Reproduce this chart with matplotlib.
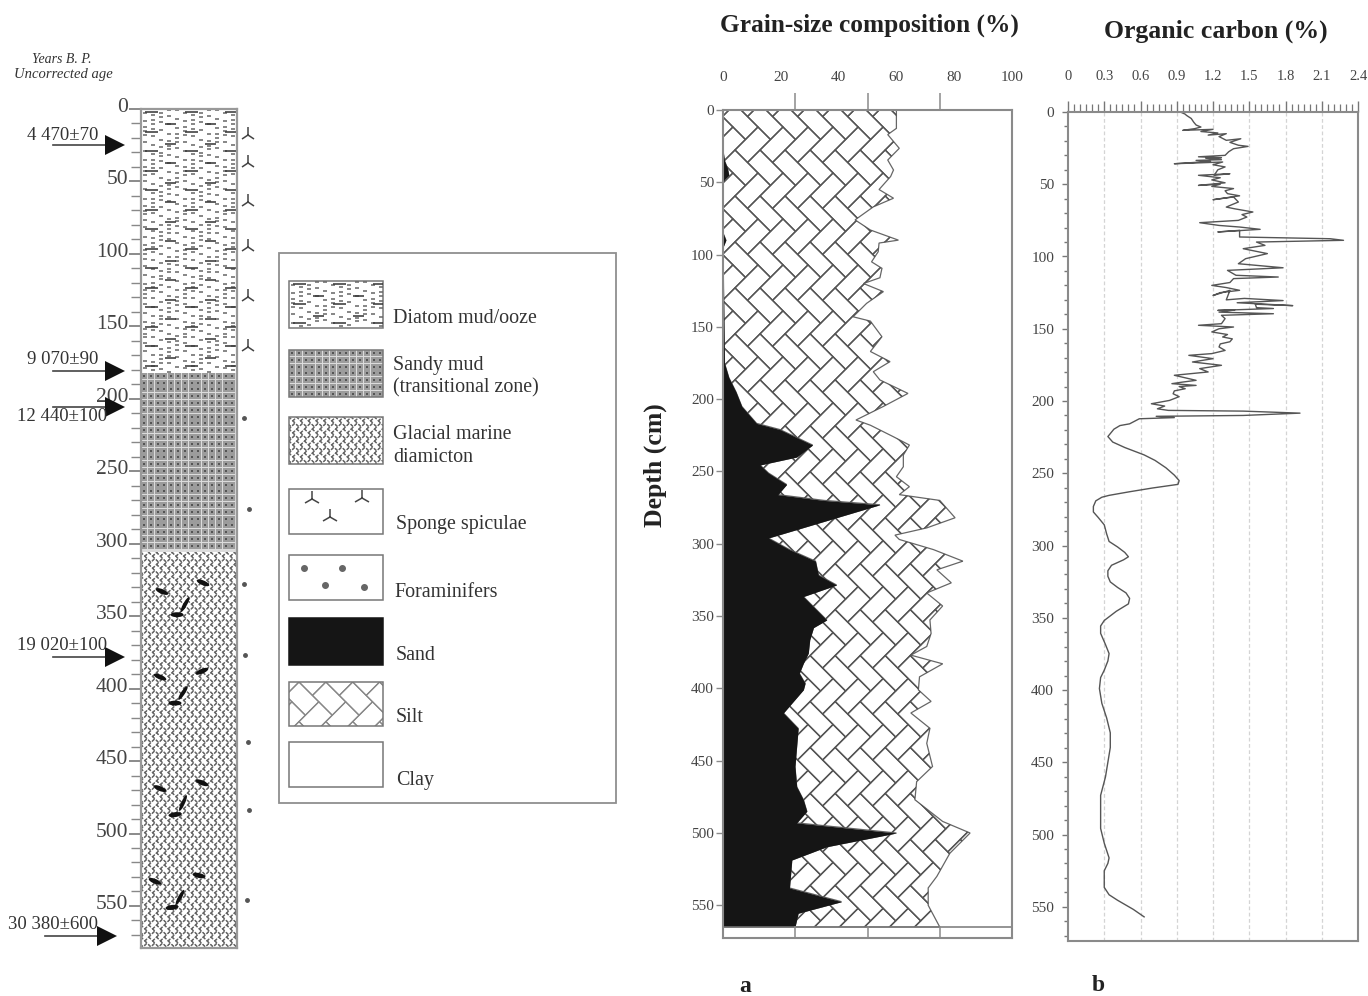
import numpy as np
import matplotlib
matplotlib.use("Agg")
import matplotlib.pyplot as plt
from matplotlib.collections import LineCollection, PolyCollection
from matplotlib.patches import Ellipse, Polygon, Rectangle
from matplotlib.transforms import ScaledTranslation

plt.rcParams['font.family'] = ['Liberation Serif', 'DejaVu Serif']

W_PX, H_PX = 1368, 996
TEXT = '#333333'
AXIS = '#8a8a8a'

# core log
core_major = [0, 50, 100, 150, 200, 250, 300, 350, 400, 450, 500, 550]
core_minor = list(range(0, 580, 10))
diatom_base = 182
sandy_base = 306
spicule_depths = [18, 37, 64.5, 95.5, 130, 164]
foram_depths = [213, 276, 328, 377, 437, 484, 546]
foram_x = [103, 108, 103, 104, 107, 108, 106]
ages = ['4 470±70', '9 070±90', '12 440±100', '19 020±100', '30 380±600']
age_depths = [25, 181, 205.5, 378, 571]
age_text_depths = [18, 173, 212, 370, 563]
age_text_right = [-43, -43, -34, -34, -43]
age_arrow_shift = [0, 0, 0, 0, -8]
blob_x = [62, 21, 44, 36, 61, 19, 42, 34, 61, 19, 42, 34, 58, 14, 39, 31]
blob_depth = [327, 333, 342, 349, 388, 392, 403, 410, 465, 469, 479, 487, 529, 533, 544, 551]
blob_angle = [15, 15, -50, 0, -15, 15, -45, 0, 15, 15, -55, -5, 8, 15, -50, -5]

# panel a, grain size
sand_depth = [0, 28, 35, 40, 45, 48, 50, 85, 90, 95, 175, 185, 195, 205, 216.7, 221, 231.7, 240, 245.5,
              251, 259, 266, 270, 273, 296, 304, 312, 321.6, 328.5, 336.5, 343.5, 352.7, 358, 366.5,
              375.7, 382.7, 389.6, 396.5, 401, 417, 427.6, 454, 468, 477, 485, 493, 500, 509.5,
              518.7, 538, 547.5, 555.5, 565]
sand_pct = [0, 0, 0.5, 1.5, 2, 0.5, 0, 0, 1, 0, 0.5, 2, 4.5, 6.5, 11.6, 19.7, 31, 25.5, 12.8,
            15.7, 22, 19, 35, 54.3, 15.7, 23, 32, 33, 39.3, 27.8, 31.3, 35.9, 31.3, 30,
            29.5, 27.8, 26.4, 28.4, 27.8, 20.9, 26, 24.9, 25.5, 27.8, 29, 25.5, 60, 35.9,
            23.8, 23, 41, 26, 24.9]
silt_depth = [0, 12.7, 17, 26.5, 34.6, 41.5, 46, 55, 61, 67, 76, 83, 90, 92, 98, 105, 109.5, 116, 120,
              125.6, 133.7, 143, 146, 156.8, 167, 174, 181, 186.7, 196, 205, 214.4, 218, 226, 231.7,
              238.6, 246.7, 253.6, 260.5, 266, 270, 282, 289, 294, 297, 304, 312, 318, 327, 334,
              343, 352.7, 362, 371, 377, 383, 392, 401, 409, 417, 427.6, 438, 454, 464.5, 477,
              492, 500, 514, 530, 538, 550, 565]
silt_pct = [60, 60, 57, 61, 57, 59, 58, 54, 59, 52, 45.7, 51, 60.7, 54, 53.7, 51.4, 55, 54.3, 48.6,
            55.5, 49.7, 45, 51, 55, 51, 57.8, 52, 54.3, 64, 55.5, 46, 51, 59, 64.5,
            62.4, 62.4, 60, 64.5, 61, 75, 80.3, 70.5, 59.5, 61, 72.8, 83, 74, 79, 70.5,
            76, 71.6, 72, 70.5, 65, 76, 68, 67.6, 72, 65, 71.6, 70.5, 72.5, 67, 66.4,
            76, 85.5, 78.5, 74, 71, 71, 75]
grain_labels = [0, 20, 40, 60, 80, 100]
grain_ticks = [0, 25, 50, 75, 100]
depth_ticks = [0, 50, 100, 150, 200, 250, 300, 350, 400, 450, 500, 550]

# panel b, organic carbon
carbon_depth = [0, 0, 1.5, 2.3, 4.5, 7, 9, 10.4, 11.5, 12.7, 12, 13.5, 14.5, 16, 15, 17, 19.6, 18.5, 21, 23,
                23.8, 25.4, 27.5, 30, 31, 31.6, 32, 33, 33.5, 34.2, 35.8, 34.6, 36.5, 38, 40, 43.8, 42.7,
                43.8, 45.5, 47, 49, 50.8, 50, 51.5, 53, 54.5, 56.5, 58, 60.7, 58.8, 62.3, 64, 65.8,
                67, 69.2, 71, 72.7, 75, 76.6, 78.5, 79.6, 81.2, 83, 81.9, 86.5, 87.7, 88.8, 90, 92.3,
                94.6, 98, 101.5, 105, 107.8, 109.6, 113, 114.2, 115.3, 118, 120, 121.5, 123.4, 125, 127,
                123.4, 130, 129, 130.5, 132, 134, 133, 135.4, 136, 137.3, 137, 138.5, 139.6, 140.7,
                143, 146.5, 147.6, 148.8, 150, 152.2, 154, 155.7, 157, 159, 160.5, 162.6, 165, 167.2,
                168.4, 170.7, 173, 175.3, 177.6, 179.9, 182.2, 185.7, 187, 188, 189.2, 190, 191.5, 193,
                195, 197, 199.6, 201.9, 203.5, 205.4, 206.5, 207, 208.4, 210, 210.6, 211.5, 212.3,
                215.8, 217, 219.5, 224.6, 228.4, 232.2, 237.3, 241.1, 246.2, 251.3, 255.1, 257.7,
                260.2, 262.8, 265.3, 266.6, 269.1, 273, 276.8, 280.6, 285.7, 292, 297.2, 301, 304.8,
                307.8, 309.9, 313.7, 317.5, 321.3, 325.2, 329, 332.8, 336.6, 340.4, 345.5, 351.9,
                355.7, 360.8, 368.5, 374.8, 379.9, 386.3, 391.4, 399, 409.2, 419.4, 429.6, 439.8,
                450, 460.2, 472.9, 485.6, 495.8, 506, 516.2, 520, 525.1, 530.2, 536.6, 541.7, 545.5,
                551.8, 557]
carbon_pct = [1.31, 0.93, 0.97, 0.98, 1.02, 1.04, 1.06, 1.10, 1.05, 0.95, 1.20, 1.10, 1.24, 1.16, 1.31, 1.25, 1.31, 1.43, 1.34, 1.41,
              1.49, 1.37, 1.33, 1.30, 1.08, 1.27, 1.14, 1.27, 1.06, 1.18, 0.88, 1.28, 1.20, 1.30, 1.24, 1.21, 1.34,
              1.08, 1.26, 1.19, 1.30, 1.08, 1.26, 1.19, 1.37, 1.30, 1.32, 1.42, 1.20, 1.37, 1.41, 1.36, 1.31,
              1.38, 1.53, 1.44, 1.48, 1.41, 1.09, 1.25, 1.42, 1.59, 1.24, 1.42, 1.42, 2.17, 2.28, 1.56, 1.63,
              1.45, 1.65, 1.47, 1.41, 1.78, 1.32, 1.39, 1.74, 1.37, 1.34, 1.19, 1.31, 1.42, 1.26, 1.20,
              1.34, 1.31, 1.46, 1.78, 1.40, 1.86, 1.55, 1.56, 1.70, 1.24, 1.38, 1.25, 1.70, 1.27,
              1.30, 1.27, 1.08, 1.37, 1.25, 1.19, 1.32, 1.28, 1.36, 1.34, 1.26, 1.25, 1.30, 1.19,
              1.00, 1.20, 1.03, 1.27, 1.09, 1.16, 0.88, 1.06, 0.94, 0.86, 1.06, 0.92, 0.97, 0.88,
              0.87, 0.92, 0.84, 0.69, 0.80, 0.74, 0.83, 1.45, 1.92, 1.45, 0.73, 0.88, 0.59,
              0.51, 0.43, 0.38, 0.33, 0.37, 0.47, 0.63, 0.72, 0.81, 0.88, 0.92, 0.91,
              0.70, 0.51, 0.34, 0.28, 0.23, 0.21, 0.21, 0.25, 0.30, 0.32, 0.34, 0.41, 0.47,
              0.50, 0.46, 0.36, 0.33, 0.33, 0.35, 0.41, 0.48, 0.51, 0.50, 0.40, 0.30,
              0.27, 0.27, 0.31, 0.34, 0.33, 0.30, 0.27, 0.26, 0.28, 0.32, 0.35, 0.35,
              0.33, 0.31, 0.27, 0.27, 0.27, 0.30, 0.34, 0.33, 0.30, 0.30, 0.30, 0.34, 0.41,
              0.54, 0.63]
carbon_labels = [0, 0.3, 0.6, 0.9, 1.2, 1.5, 1.8, 2.1, 2.4]

legend_names = ['Diatom mud/ooze', 'Sandy mud\n(transitional zone)', 'Glacial marine\ndiamicton',
                'Sponge spiculae', 'Foraminifers', 'Sand', 'Silt', 'Clay']


def px_axes(fig, left, top, right, bottom):
    return fig.add_axes([left / W_PX, 1 - bottom / H_PX, (right - left) / W_PX, (bottom - top) / H_PX])


def brick_polys(x0, y0, x1, y1, w, l, phase=(0, 0)):
    # herringbone bricks covering a box, in pixels
    s = np.sqrt(2)
    polys = []
    n = int(max(x1 - x0, y1 - y0) / min(w, l)) + 6
    h_brick = np.array([[0, 0], [l, 0], [l, w], [0, w]], float)
    v_brick = np.array([[l, w - l], [l + w, w - l], [l + w, w], [l, w]], float)
    for i in range(-n, n):
        for j in range(-n, n):
            off = i * np.array([w, w]) + j * np.array([l, -l])
            for b in (h_brick, v_brick):
                p = b + off
                ux = x0 + (p[:, 0] + p[:, 1]) / s + phase[0]
                vy = y0 + (p[:, 1] - p[:, 0]) / s + phase[1]
                if ux.max() > x0 and ux.min() < x1 and vy.max() > y0 and vy.min() < y1:
                    polys.append(np.column_stack([ux, vy]))
    return polys


def clipped(ax, coll, x0, y0, x1, y1):
    ax.add_collection(coll, autolim=False)
    coll.set_clip_path(Rectangle((x0, y0), x1 - x0, y1 - y0, transform=ax.transData))


def diatom_texture(ax, x0, y0, x1, y1):
    fine, bold = [], []
    for r, y in enumerate(np.arange(y0 + 3, y1, 6.5)):
        for x in np.arange(x0 + 2, x1, 8):
            dy = 3 * np.sin((x - x0) / 40 * 2 * np.pi + r)
            fine.append([(x, y + dy), (x + 3.5, y + dy)])
        if r % 3 == 0:
            for x in np.arange(x0 + 4, x1, 40):
                bold.append([(x, y), (x + 13, y)])
                bold.append([(x + 20, y + 12), (x + 31, y + 12)])
    clipped(ax, LineCollection(fine, colors='#666666', linewidths=1.1), x0, y0, x1, y1)
    clipped(ax, LineCollection(bold, colors='#333333', linewidths=1.1), x0, y0, x1, y1)


def sandy_texture(ax, x0, y0, x1, y1):
    ax.add_patch(Rectangle((x0, y0), x1 - x0, y1 - y0, fc='#dcdcdc', ec='none'))
    xs = np.arange(x0 + 3, x1, 6.8)
    ys = np.arange(y0 + 3, y1, 6.8)
    gx, gy = np.meshgrid(xs, ys)
    ax.scatter(gx.ravel(), gy.ravel(), s=13, marker='s', c='#9c9c9c', lw=0)
    ax.scatter(gx.ravel(), gy.ravel(), s=4, marker='s', c='#555555', lw=0)


def diamict_texture(ax, x0, y0, x1, y1):
    polys = brick_polys(x0, y0, x1, y1, 5.5, 8.5)
    coll = PolyCollection(polys, facecolors='none', edgecolors='#666666', linewidths=0.9,
                          linestyles=[(0, (2.5, 1.5))])
    clipped(ax, coll, x0, y0, x1, y1)


fig = plt.figure(figsize=(W_PX / 100, H_PX / 100), dpi=100, facecolor='white')

# overlay in pixels, used for the textures and the legend
ov = fig.add_axes([0, 0, 1, 1])
ov.set_xlim(0, W_PX)
ov.set_ylim(H_PX, 0)
ov.axis('off')

# core log
col_left, col_right, col_top, col_bottom = 141, 237, 109, 948
col_scale = 1.449
ax_core = px_axes(fig, col_left, col_top, col_right, col_bottom)
ax_core.set_xlim(0, col_right - col_left)
ax_core.set_ylim((col_bottom - col_top) / col_scale, 0)
ax_core.patch.set_alpha(0)
y_diatom = col_top + diatom_base * col_scale
y_sandy = col_top + sandy_base * col_scale
diatom_texture(ov, col_left, col_top, col_right, y_diatom)
sandy_texture(ov, col_left, y_diatom, col_right, y_sandy)
diamict_texture(ov, col_left, y_sandy, col_right, col_bottom)
for x, d, a in zip(blob_x, blob_depth, blob_angle):
    ax_core.add_patch(Ellipse((x, d), 13, 3.4, angle=a, fc='#111111', ec='none'))
for sp in ax_core.spines.values():
    sp.set_color('#999999')
    sp.set_linewidth(1.6)
ax_core.set_xticks([])
ax_core.set_yticks(core_major)
ax_core.set_yticks(core_minor, minor=True)
ax_core.tick_params(axis='y', which='major', length=9, width=1.2, color='#777777', labelsize=15.5,
                    labelcolor='#444444', pad=0)
ax_core.tick_params(axis='y', which='minor', length=7, width=1.0, color='#888888')
for lab in ax_core.get_yticklabels():
    lab.set_transform(lab.get_transform() + ScaledTranslation(0, 0.04, fig.dpi_scale_trans))
ax_core.plot([107] * len(spicule_depths), spicule_depths, ls='none', marker='2', ms=11, mew=1.1,
             color='#444444', clip_on=False)
ax_core.plot(foram_x, foram_depths, ls='none', marker='o', ms=2.5, color='#555555', clip_on=False)
for name, d, td, right, shift in zip(ages, age_depths, age_text_depths, age_text_right, age_arrow_shift):
    ax_core.text(right, td, name, ha='right', va='center', fontsize=13.5, color=TEXT)
    ax_core.plot([-88 + shift, -36 + shift], [d, d], color='#444444', lw=1.2, clip_on=False)
    ax_core.plot([-26 + shift], [d], marker='>', ms=15, color='#111111', mew=0, clip_on=False)
ov.text(62, 59, 'Years B. P.', style='italic', fontsize=10, color=TEXT, ha='center', va='center')
ov.text(63, 74, 'Uncorrected age', style='italic', fontsize=10.5, color=TEXT, ha='center', va='center')

# legend box
ov.add_patch(Rectangle((279, 253), 337, 550, fc='white', ec='#8f8f8f', lw=1.3))
sw_left, sw_right = 289, 383
sw_top = [281, 350, 417, 489, 555, 618, 682, 742]
sw_bottom = [328, 397, 464, 534, 600, 665, 726, 787]
lab_x = [393, 393, 393, 396, 394, 396, 396, 396]
lab_y = [318, 377, 446, 524, 592, 655, 717, 780]
diatom_texture(ov, sw_left, sw_top[0], sw_right, sw_bottom[0])
sandy_texture(ov, sw_left, sw_top[1], sw_right, sw_bottom[1])
diamict_texture(ov, sw_left, sw_top[2], sw_right, sw_bottom[2])
ov.plot([312, 362, 330], [499, 498, 517], ls='none', marker='2', ms=12, mew=1.1, color='#444444')
ov.plot([304, 342, 325, 364], [568, 568, 585, 587], ls='none', marker='o', ms=4, color='#666666')
ov.add_patch(Rectangle((sw_left, sw_top[5]), sw_right - sw_left, sw_bottom[5] - sw_top[5], fc='#151515', ec='none'))
silt_swatch = PolyCollection(brick_polys(sw_left, sw_top[6], sw_right, sw_bottom[6], 19, 28, (10, 0)),
                             facecolors='none', edgecolors='#888888', linewidths=0.9)
clipped(ov, silt_swatch, sw_left, sw_top[6], sw_right, sw_bottom[6])
for i in range(8):
    ec = '#777777' if i != 5 else '#151515'
    ov.add_patch(Rectangle((sw_left, sw_top[i]), sw_right - sw_left, sw_bottom[i] - sw_top[i], fc='none', ec=ec, lw=1.1))
    ov.text(lab_x[i], lab_y[i], legend_names[i], fontsize=14.4, color=TEXT, ha='left', va='center', linespacing=1.25)

# panel a
ax_a = px_axes(fig, 723, 110, 1012, 938)
ax_a.set_xlim(0, 100)
ax_a.set_ylim(828 / 1.446, 0)
ax_a.patch.set_alpha(0)
sand_x = np.array(sand_pct)
sand_y = np.array(sand_depth)
silt_x = np.array(silt_pct)
silt_y = np.array(silt_depth)
silt_poly = Polygon(np.column_stack([np.r_[silt_x, sand_x[::-1]], np.r_[silt_y, sand_y[::-1]]]),
                    fc='white', ec='#666666', lw=0.9)
ax_a.add_patch(silt_poly)
bricks = PolyCollection(brick_polys(723, 110, 1012, 938, 17.7, 32.5, (12, -6)), facecolors='none',
                        edgecolors='#555555', linewidths=1.0, transform=ov.transData)
ax_a.add_collection(bricks, autolim=False)
bricks.set_clip_path(silt_poly)
ax_a.fill_betweenx(sand_y, 0, sand_x, color='#151515', lw=0)
ax_a.axhline(565, color='#777777', lw=1.1)
for sp in ax_a.spines.values():
    sp.set_color(AXIS)
    sp.set_linewidth(1.5)
ax_a.xaxis.tick_top()
ax_a.set_xticks(grain_labels)
ax_a.set_xticks(grain_ticks, minor=True)
ax_a.tick_params(axis='x', which='major', length=0, pad=18.5, labelsize=11, labelcolor='#444444')
ax_a.tick_params(axis='x', which='minor', top=True, direction='out', length=12, width=1.1, color=AXIS)
ax_a.set_yticks(depth_ticks)
ax_a.tick_params(axis='y', length=5, width=1.0, color=AXIS, labelsize=11, labelcolor='#444444', pad=1.5)
for v in grain_ticks[1:-1]:
    ax_a.plot([v, v], [565, 828 / 1.446], color=AXIS, lw=1.1)
ov.text(655, 465, 'Depth (cm)', rotation=90, fontweight='bold', fontsize=18.5, color='#222222', ha='center', va='center')
ov.text(869, 25, 'Grain-size composition (%)', fontweight='bold', fontsize=18.3, color='#222222', ha='center', va='center')
ov.text(745, 986, 'a', fontweight='bold', fontsize=17, color='#222222', ha='center', va='center')

# panel b
ax_b = px_axes(fig, 1068, 112, 1358, 941)
ax_b.set_xlim(0, 2.4)
ax_b.set_ylim(829 / 1.445, 0)
ax_b.patch.set_alpha(0)
for v in carbon_labels[1:-1]:
    ax_b.axvline(v, color='#d4d4d4', lw=0.9, ls=(0, (3, 2)))
ax_b.plot(carbon_pct, carbon_depth, color='#555555', lw=1.0)
for sp in ax_b.spines.values():
    sp.set_color(AXIS)
    sp.set_linewidth(1.5)
ax_b.xaxis.tick_top()
ax_b.set_xticks(carbon_labels)
ax_b.set_xticklabels(['0', '0.3', '0.6', '0.9', '1.2', '1.5', '1.8', '2.1', '2.4'])
ax_b.set_xticks(np.arange(0, 2.401, 0.05), minor=True)
ax_b.tick_params(axis='x', which='major', length=8, width=1.0, color='#777777', pad=13, labelsize=10.5, labelcolor='#444444')
ax_b.tick_params(axis='x', which='minor', top=True, length=6, width=0.9, color='#777777')
ax_b.set_yticks(depth_ticks)
ax_b.set_yticks(range(0, 575, 10), minor=True)
ax_b.tick_params(axis='y', which='major', length=4, width=1.0, color='#777777', labelsize=11, labelcolor='#444444', pad=6)
ax_b.tick_params(axis='y', which='minor', length=3, width=1.0, color='#777777')
ov.text(1216, 31, 'Organic carbon (%)', fontweight='bold', fontsize=18.5, color='#222222', ha='center', va='center')
ov.text(1098, 985, 'b', fontweight='bold', fontsize=17, color='#222222', ha='center', va='center')

plt.savefig('out.png', dpi=100, facecolor='white')
